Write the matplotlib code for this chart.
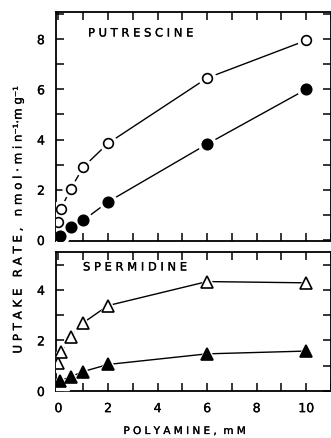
import matplotlib
matplotlib.use("Agg")
import matplotlib.pyplot as plt
import matplotlib.patheffects as pe
from matplotlib.ticker import MultipleLocator

# ---- data ----
put_open_x = [0.0, 0.1, 0.5, 1, 2, 6, 10]
put_open_y = [0.7, 1.25, 2.05, 2.9, 3.85, 6.45, 7.95]
put_fill_x = [0.05, 0.5, 1, 2, 6, 10]
put_fill_y = [0.15, 0.5, 0.78, 1.52, 3.82, 6.0]
spd_open_x = [0.0, 0.1, 0.5, 1, 2, 6, 10]
spd_open_y = [1.1, 1.55, 2.15, 2.7, 3.38, 4.33, 4.28]
spd_fill_x = [0.05, 0.5, 1, 2, 6, 10]
spd_fill_y = [0.4, 0.57, 0.77, 1.05, 1.47, 1.58]

x_ticks = [0, 2, 4, 6, 8, 10]
x_tick_labels = ["0", "2", "4", "6", "8", "10"]
top_yticks = [0, 2, 4, 6, 8]
bot_yticks = [0, 2, 4]

plt.rcParams["font.family"] = ["DejaVu Sans"]
THICK = [pe.withStroke(linewidth=0.2, foreground="black")]

TS = "\u2009"


def spaced(s, sep=TS):
    return sep.join(list(s))


fig = plt.figure(figsize=(3.31, 4.39), dpi=100)
L, R = 56 / 331, 1.0
ax1 = fig.add_axes([L, (439 - 242) / 439, R - L, (242 - 13) / 439])
ax2 = fig.add_axes([L, (439 - 392) / 439, R - L, (392 - 253) / 439])


def style(ax, ylim, yticks):
    ax.set_xlim(-0.1, 11.0)
    ax.set_ylim(*ylim)
    ax.set_xticks(x_ticks)
    ax.xaxis.set_minor_locator(MultipleLocator(1))
    ax.set_yticks(yticks)
    ax.yaxis.set_minor_locator(MultipleLocator(1))
    ax.tick_params(which="both", direction="in", top=True, right=True,
                   length=5.5, width=1.1, labelsize=9, pad=8)
    for lab in ax.get_xticklabels() + ax.get_yticklabels():
        lab.set_path_effects(THICK)
    for sp in ax.spines.values():
        sp.set_linewidth(1.3)


def series(ax, x, y, marker, filled, ms):
    ax.plot(x, y, color="black", lw=1.0, zorder=2)
    ax.plot(x, y, ls="none", marker=marker, ms=ms + 5, mfc="white",
            mec="white", zorder=3)
    ax.plot(x, y, ls="none", marker=marker, ms=ms,
            mfc="black" if filled else "white", mec="black", mew=1.2,
            zorder=4)


ax1.set_xticks(x_ticks)
ax1.set_xticklabels([])
ax2.set_xticks(x_ticks)
ax2.set_xticklabels(x_tick_labels)
style(ax1, (-0.04, 9.08), top_yticks)
style(ax2, (0, 5.5), bot_yticks)

series(ax1, put_open_x, put_open_y, "o", False, 7)
series(ax1, put_fill_x, put_fill_y, "o", True, 7.5)
series(ax2, spd_open_x, spd_open_y, "^", False, 8.5)
series(ax2, spd_fill_x, spd_fill_y, "^", True, 8.5)

fig.text(88 / 331, (439 - 34) / 439, spaced("PUTRESCINE", " "),
         fontsize=8.3, ha="left", va="center", path_effects=THICK)
fig.text(83 / 331, (439 - 268) / 439, spaced("SPERMIDINE", " "),
         fontsize=8.3, ha="left", va="center", path_effects=THICK)

ylab = (spaced("UPTAKE", " ") + "   " + spaced("RATE,", " ") + "   " +
        spaced("nmol", " ") + " · " + spaced("min", " ") + "\u207b\u00b9" +
        "·" + spaced("mg", " ") + "\u207b\u00b9")
fig.text(18 / 331, (439 - 221) / 439, ylab, rotation=90, ha="center",
         va="center", fontsize=8.5, path_effects=THICK)
fig.text(184 / 331, (439 - 432) / 439,
         spaced("POLYAMINE,", " ") + "  " + spaced("mM", " "),
         ha="center", va="center", fontsize=7.5, path_effects=THICK)

fig.savefig("out.png", dpi=100)
